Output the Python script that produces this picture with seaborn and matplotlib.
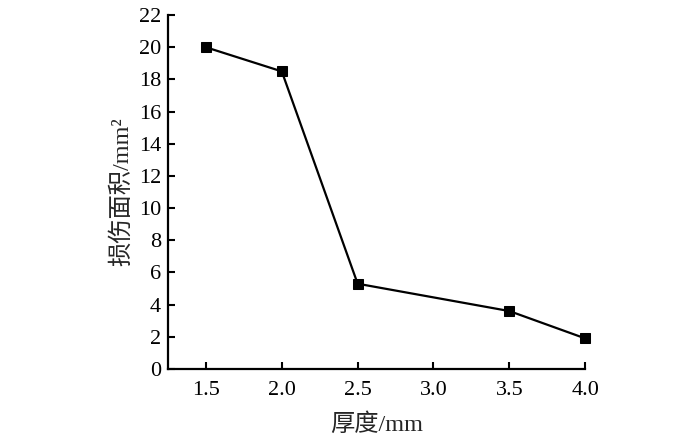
import matplotlib.pyplot as plt
import seaborn as sns
import numpy as np
import pandas as pd

# data
thickness = [1.5, 2.0, 2.5, 3.5, 4.0]
damage_area = [20.0, 18.5, 5.3, 3.6, 1.9]
x_ticks = [1.5, 2.0, 2.5, 3.0, 3.5, 4.0]
y_ticks = list(range(0, 23, 2))

df = pd.DataFrame({'thickness': thickness, 'area': damage_area})

sns.set_style('ticks')
plt.rcParams['font.family'] = ['Liberation Serif', 'Noto Sans CJK SC']

fig = plt.figure(figsize=(7, 4.44), dpi=100)
ax = fig.add_axes([0.24, 0.169, 0.596, 0.797])

sns.lineplot(data=df, x='thickness', y='area', ax=ax, color='black',
             marker='s', markersize=7, markeredgecolor='black', linewidth=1.6,
             clip_on=False)

ax.set_xlim(1.25, 4.0)
ax.set_ylim(0, 22)
ax.set_xticks(x_ticks)
ax.set_xticklabels([f'{v:.1f}' for v in x_ticks])
ax.set_yticks(y_ticks)
ax.tick_params(direction='in', length=5, width=1.5, labelsize=16, colors='black')
ax.tick_params(axis='x', pad=9)
ax.tick_params(axis='y', pad=5)
for s in ['top', 'right']:
    ax.spines[s].set_visible(False)
for s in ['left', 'bottom']:
    ax.spines[s].set_linewidth(1.6)
    ax.spines[s].set_color('black')

ax.set_xlabel('厚度/mm', fontsize=17.5, labelpad=9)
ax.set_ylabel('损伤面积/mm²', fontsize=17.5, labelpad=4)

fig.savefig('out.png', dpi=100)
